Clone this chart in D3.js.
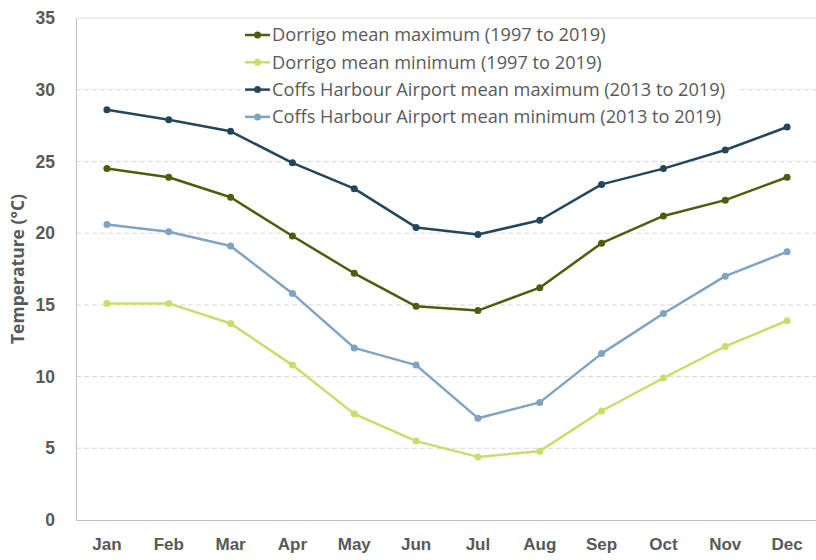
<!DOCTYPE html>
<html>
<head>
<meta charset="utf-8">
<script src="https://cdn.jsdelivr.net/npm/d3@7"></script>
<style>
  body { margin: 0; background: #fff; }
  svg { display: block; font-family: "Open Sans", Lato, sans-serif; }
</style>
</head>
<body>
<div id="chart"></div>
<script>
// monthly temperature means
const months = ["Jan","Feb","Mar","Apr","May","Jun","Jul","Aug","Sep","Oct","Nov","Dec"];
const dorrigoMax = [24.5, 23.9, 22.5, 19.8, 17.2, 14.9, 14.6, 16.2, 19.3, 21.2, 22.3, 23.9];
const dorrigoMin = [15.1, 15.1, 13.7, 10.8, 7.4, 5.5, 4.4, 4.8, 7.6, 9.9, 12.1, 13.9];
const coffsMax = [28.6, 27.9, 27.1, 24.9, 23.1, 20.4, 19.9, 20.9, 23.4, 24.5, 25.8, 27.4];
const coffsMin = [20.6, 20.1, 19.1, 15.8, 12.0, 10.8, 7.1, 8.2, 11.6, 14.4, 17.0, 18.7];
const yTicks = [0, 5, 10, 15, 20, 25, 30, 35];

const series = [
  {name: "Dorrigo mean maximum (1997 to 2019)", values: dorrigoMax, color: "#4b5e0c"},
  {name: "Dorrigo mean minimum (1997 to 2019)", values: dorrigoMin, color: "#c3e06b"},
  {name: "Coffs Harbour Airport mean maximum (2013 to 2019)", values: coffsMax, color: "#23465c"},
  {name: "Coffs Harbour Airport mean minimum (2013 to 2019)", values: coffsMin, color: "#7fa3c3"}
];

const W = 816, H = 560;
const margin = {top: 18, right: -2, bottom: 40, left: 76};
const width = W - margin.left - margin.right,
      height = H - margin.top - margin.bottom;

const svg = d3.select("#chart").append("svg").attr("width", W).attr("height", H);
const g = svg.append("g").attr("transform", `translate(${margin.left},${margin.top})`);

const x = d3.scaleBand().domain(months).range([0, width]);
const y = d3.scaleLinear().domain([0, 35]).range([height, 0]);

// gridlines
g.append("g").selectAll("line")
  .data(yTicks.filter(d => d > 0 && d < 35))
  .enter().append("line")
    .attr("x1", 0).attr("x2", width)
    .attr("y1", d => y(d)).attr("y2", d => y(d))
    .attr("stroke", "#d9d9d9").attr("stroke-width", 1)
    .attr("stroke-dasharray", "5,3");

g.append("line").attr("x1", 0).attr("x2", width).attr("y1", y(35)).attr("y2", y(35))
  .attr("stroke", "#d9d9d9");

// axes
const yAxis = g.append("g").call(d3.axisLeft(y).tickValues(yTicks).tickSize(0).tickPadding(21));
yAxis.select(".domain").attr("stroke", "#bfbfbf");
yAxis.selectAll("text").attr("fill", "#595959").attr("font-size", 17.5).attr("font-weight", "bold");

const xAxis = g.append("g").attr("transform", `translate(0,${height})`)
  .call(d3.axisBottom(x).tickSize(0).tickPadding(18));
xAxis.select(".domain").attr("stroke", "#bfbfbf");
xAxis.selectAll("text").attr("fill", "#595959").attr("font-size", 17).attr("font-weight", "bold");

svg.append("text")
  .attr("transform", `translate(24,${margin.top + height / 2}) rotate(-90)`)
  .attr("text-anchor", "middle")
  .attr("fill", "#595959").attr("font-size", 17.5).attr("font-weight", "bold")
  .text("Temperature (°C)");

// legend box (white, covers the gridline)
const lg = svg.append("g").attr("transform", "translate(240,22)");
lg.append("rect").attr("x", 0).attr("y", 0).attr("width", 497).attr("height", 108).attr("fill", "#fff");

const line = d3.line()
  .x((d, i) => x(months[i]) + x.bandwidth() / 2)
  .y(d => y(d));

series.forEach(s => {
  g.append("path")
    .datum(s.values)
    .attr("fill", "none")
    .attr("stroke", s.color)
    .attr("stroke-width", 2.5)
    .attr("stroke-linejoin", "round")
    .attr("d", line);
  g.append("g").selectAll("circle")
    .data(s.values)
    .enter().append("circle")
      .attr("cx", (d, i) => x(months[i]) + x.bandwidth() / 2)
      .attr("cy", d => y(d))
      .attr("r", 3.5)
      .attr("fill", s.color);
});

const item = lg.selectAll("g.item")
  .data(series)
  .enter().append("g")
    .attr("class", "item")
    .attr("transform", (d, i) => `translate(0,${13 + i * 27.3})`);

item.append("line")
  .attr("x1", 5).attr("x2", 30)
  .attr("stroke", d => d.color).attr("stroke-width", 2.5);
item.append("circle").attr("cx", 17.5).attr("r", 3.5).attr("fill", d => d.color);
item.append("text")
  .attr("x", 32).attr("dy", "0.35em")
  .attr("fill", "#595959").attr("font-size", 18.2)
  .text(d => d.name);
</script>
</body>
</html>
